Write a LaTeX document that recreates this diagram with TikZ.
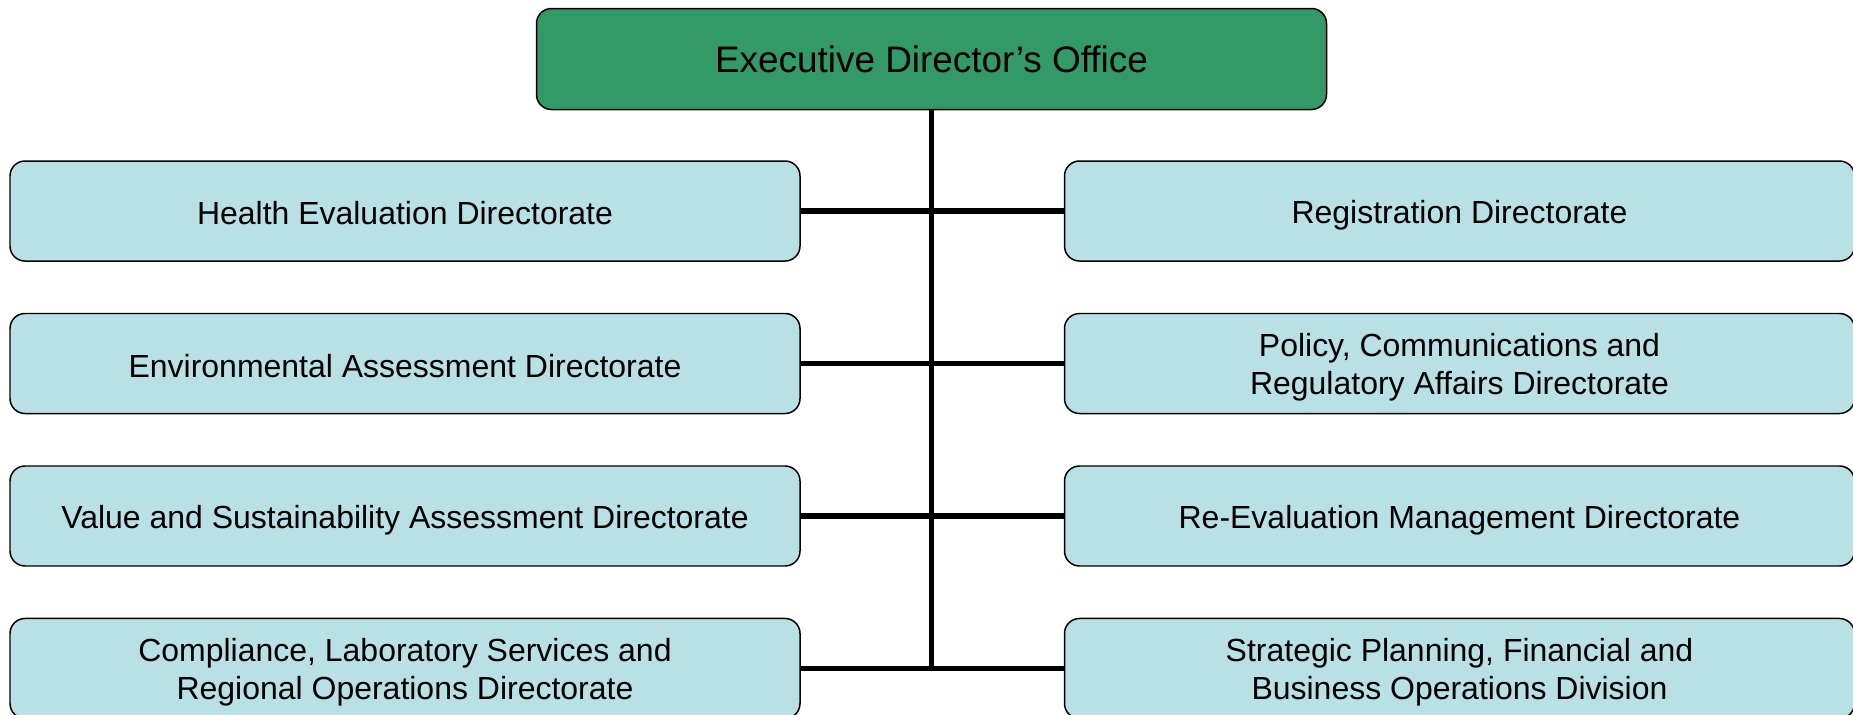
\documentclass[tikz,border=0pt]{standalone}
\usepackage{fontspec}
\setmainfont{Liberation Sans}
\usetikzlibrary{positioning}

\definecolor{officegreen}{RGB}{51,153,102}
\definecolor{unitblue}{RGB}{185,224,228}
% keeps one- and two-line labels at the same height in the boxes
\newcommand{\unitstrut}{\rule[-2pt]{0pt}{19.6pt}}

\begin{document}
\begin{tikzpicture}[
    font=\fontsize{18.2}{21.6}\selectfont,
    head/.style={draw, rounded corners=0.3cm, align=center, minimum width=15.8cm,
      minimum height=2.02cm, fill=officegreen, line width=0.85pt,
      font=\fontsize{21}{25}\selectfont},
    unit/.style={draw, rounded corners=0.3cm, align=flush center, text width=15cm,
      minimum width=15.8cm, minimum height=2cm, fill=unitblue, line width=0.85pt,
      execute at begin node=\unitstrut, execute at end node=\unitstrut},
    link/.style={line width=3pt}
  ]
    \useasboundingbox (0,0) rectangle (37.06,-14.28);
    \node[head] (edo) at (18.63,-1.18) {Executive Director’s Office};
    % left column
    \node[unit] (hed) at (8.1,-4.22) {Health Evaluation Directorate};
    \node[unit, below=1.02cm of hed] (ead) {Environmental Assessment Directorate};
    \node[unit, below=1.02cm of ead] (vsa) {Value and Sustainability Assessment Directorate};
    \node[unit, below=1.02cm of vsa] (clr) {Compliance, Laboratory Services and\\Regional Operations Directorate};
    % right column
    \node[unit, right=5.26cm of hed] (reg) {Registration Directorate};
    \node[unit, right=5.26cm of ead] (pcr) {Policy, Communications and\\Regulatory Affairs Directorate};
    \node[unit, right=5.26cm of vsa] (rem) {Re-Evaluation Management Directorate};
    \node[unit, right=5.26cm of clr] (spf) {Strategic Planning, Financial and\\Business Operations Division};
    % spine and branches
    \draw[link] (edo.south) -- (edo.south |- clr.east);
    \draw[link] (hed) -- (reg);
    \draw[link] (ead) -- (pcr);
    \draw[link] (vsa) -- (rem);
    \draw[link] (clr) -- (spf);
  \end{tikzpicture}
\end{document}
